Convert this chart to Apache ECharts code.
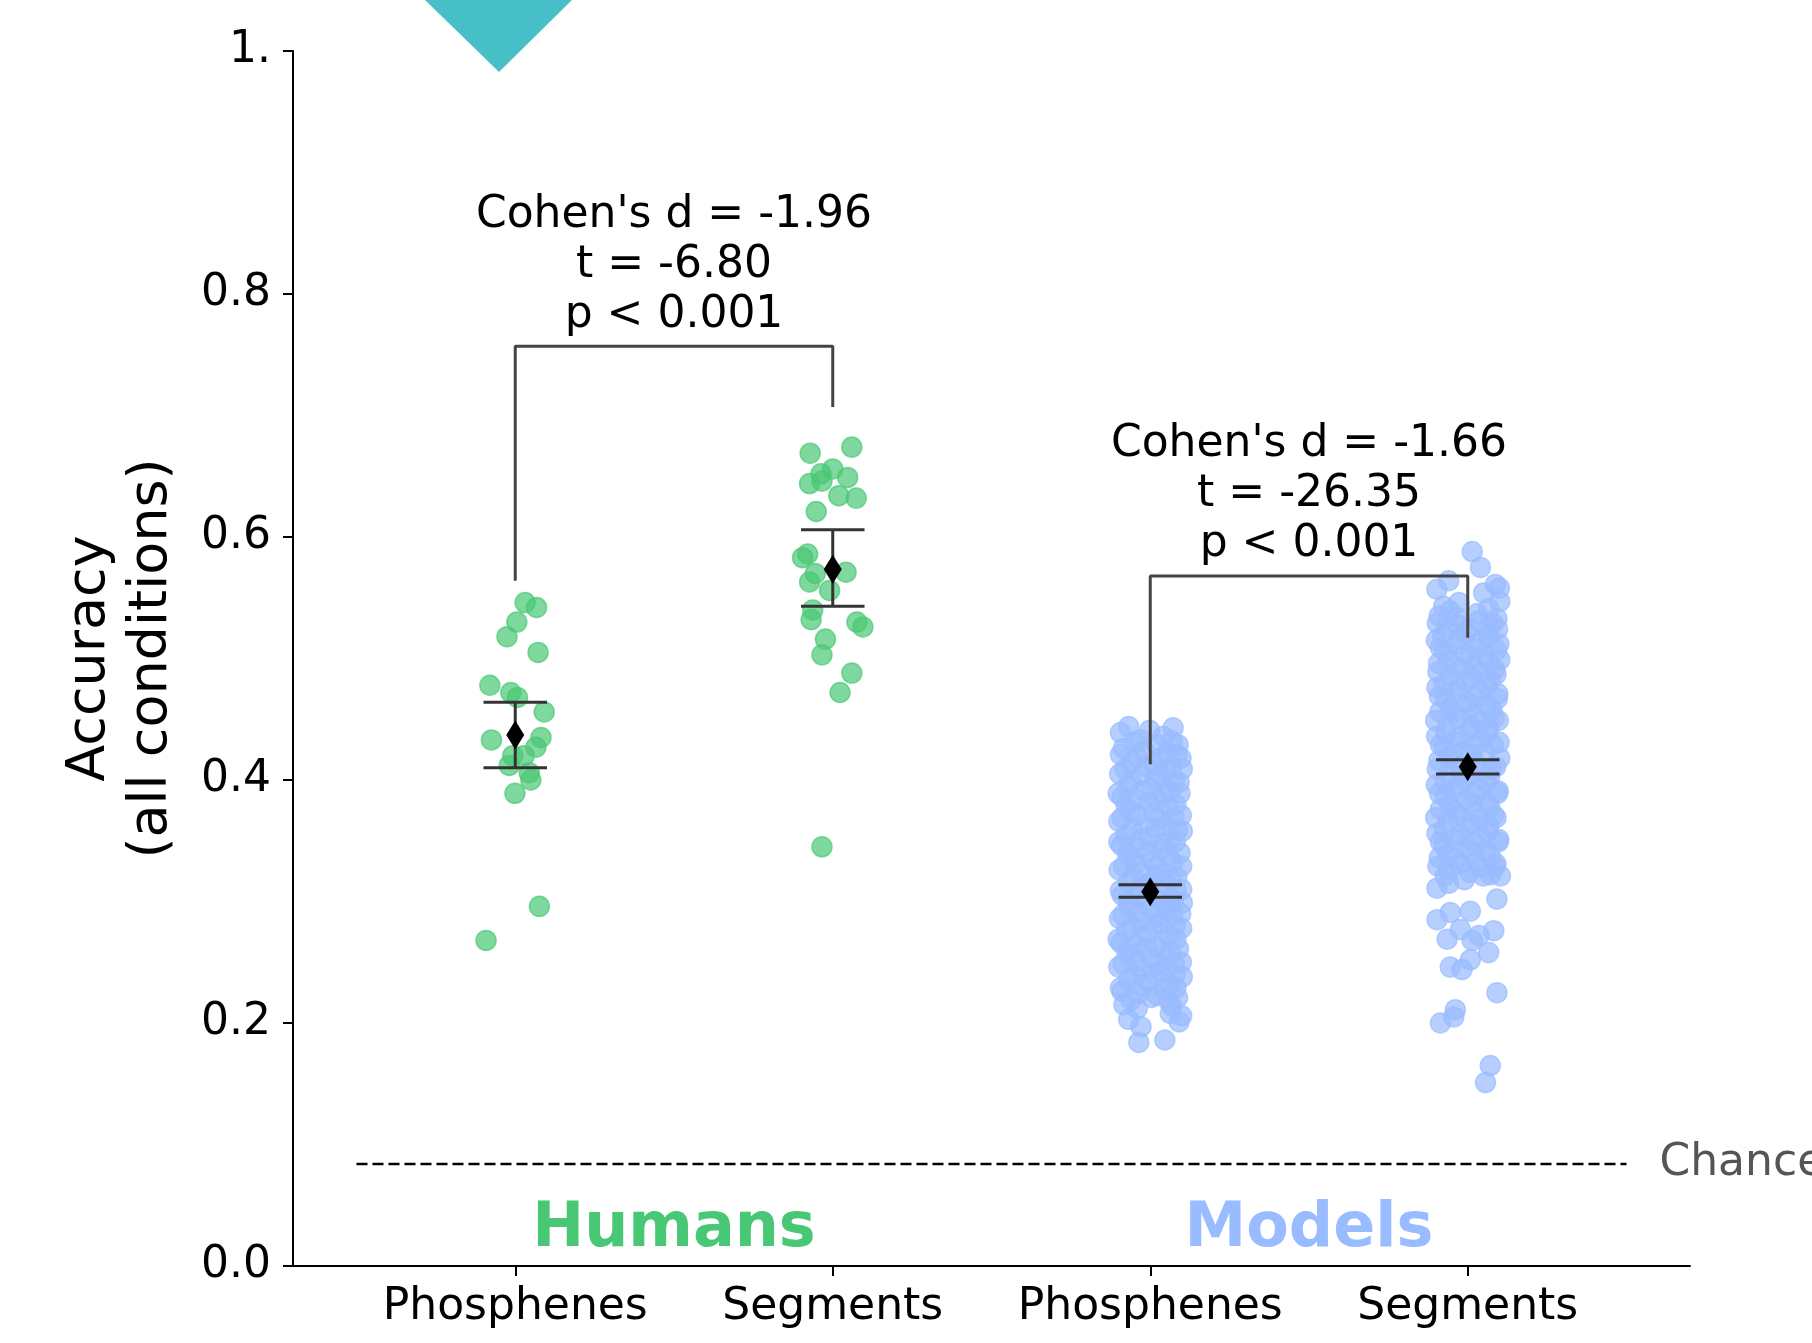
<!DOCTYPE html>
<html>
<head>
<meta charset="utf-8">
<script src="https://cdn.jsdelivr.net/npm/echarts@6/dist/echarts.min.js"></script>
<style>
  html, body { margin: 0; padding: 0; background: #fff; }
  #main { width: 1812px; height: 1343px; }
</style>
</head>
<body>
<div id="main"></div>
<script>
// categories on the x axis (one position per condition)
var categories = ['Phosphenes', 'Segments', 'Phosphenes', 'Segments'];
var xPos = [0, 1, 2, 3];

// mean and error bar (low / high) per condition
var means = [0.437, 0.5735, 0.308, 0.411];
var ciLow = [0.410, 0.543, 0.3034, 0.405];
var ciHigh = [0.464, 0.606, 0.3138, 0.4166];

var chanceLevel = 0.084;

// [jitter, accuracy]
var humansPhosphenes = [
    [0.031, 0.546], [0.067, 0.542], [0.005, 0.530], [-0.026, 0.518], [0.072, 0.505],
    [-0.080, 0.478], [-0.014, 0.472], [0.007, 0.468], [0.091, 0.456], [-0.075, 0.433],
    [0.081, 0.435], [0.065, 0.427], [-0.008, 0.420], [-0.019, 0.412], [0.028, 0.420],
    [0.044, 0.406], [0.049, 0.400], [-0.001, 0.389], [0.076, 0.296], [-0.092, 0.268]
];

var humansSegments = [
    [-0.071, 0.669], [0.060, 0.674], [0.000, 0.656], [-0.037, 0.652], [0.047, 0.649],
    [-0.073, 0.644], [-0.034, 0.646], [0.019, 0.634], [0.074, 0.632], [-0.052, 0.621],
    [-0.079, 0.586], [-0.095, 0.583], [0.042, 0.571], [-0.055, 0.570], [-0.073, 0.563],
    [-0.010, 0.556], [-0.063, 0.540], [-0.068, 0.532], [0.076, 0.530], [0.095, 0.526],
    [-0.023, 0.516], [-0.034, 0.503], [0.060, 0.488], [0.023, 0.472], [-0.034, 0.345]
];

var modelsPhosphenes = [
    [-0.094, 0.439], [-0.068, 0.444], [-0.002, 0.441], [0.072, 0.443], [-0.031, 0.433], [0.041, 0.436], [0.088, 0.429],
    [-0.085, 0.426], [-0.018, 0.424], [0.052, 0.422], [0.097, 0.418],
    [-0.058, 0.415], [0.012, 0.413], [0.068, 0.411],
    [-0.096, 0.405], [-0.029, 0.404], [0.036, 0.402], [0.091, 0.398],
    [-0.071, 0.395], [0.003, 0.393], [0.061, 0.391],
    [-0.089, 0.386], [-0.042, 0.384], [0.024, 0.383], [0.081, 0.380],
    [-0.062, 0.375], [0.011, 0.373], [0.098, 0.371],
    [-0.099, 0.366], [-0.021, 0.364], [0.046, 0.362], [0.086, 0.359],
    [-0.077, 0.355], [-0.004, 0.353], [0.062, 0.351],
    [-0.091, 0.346], [-0.036, 0.344], [0.029, 0.343], [0.094, 0.340],
    [-0.058, 0.336], [0.007, 0.334], [0.071, 0.332],
    [-0.098, 0.326], [-0.027, 0.324], [0.039, 0.323], [0.084, 0.320],
    [-0.069, 0.316], [-0.011, 0.314], [0.053, 0.313], [0.099, 0.310],
    [-0.088, 0.305], [-0.043, 0.304], [0.021, 0.302], [0.074, 0.300],
    [-0.063, 0.296], [0.001, 0.294], [0.049, 0.293], [0.096, 0.290],
    [-0.097, 0.286], [-0.031, 0.284], [0.032, 0.282], [0.079, 0.280],
    [-0.074, 0.276], [-0.009, 0.274], [0.058, 0.272],
    [-0.093, 0.266], [-0.041, 0.264], [0.019, 0.263], [0.089, 0.261],
    [-0.061, 0.256], [0.002, 0.254], [0.051, 0.253], [0.098, 0.250],
    [-0.099, 0.246], [-0.028, 0.244], [0.036, 0.242], [0.078, 0.240],
    [-0.068, 0.236], [-0.006, 0.234], [0.061, 0.232],
    [-0.089, 0.226], [-0.039, 0.224], [0.022, 0.223], [0.086, 0.221],
    [-0.083, 0.215], [-0.041, 0.212], [0.068, 0.214], [0.091, 0.201], [-0.068, 0.203],
    [-0.029, 0.197], [0.063, 0.208], [-0.036, 0.184], [0.046, 0.186], [0.099, 0.206],
    [-0.049, 0.431], [0.021, 0.429], [0.069, 0.432],
    [-0.094, 0.421], [-0.041, 0.419], [0.032, 0.418], [0.084, 0.421],
    [-0.079, 0.409], [-0.012, 0.411], [0.049, 0.408], [0.101, 0.409],
    [-0.061, 0.399], [0.016, 0.401], [0.076, 0.399],
    [-0.101, 0.389], [-0.024, 0.391], [0.041, 0.388], [0.094, 0.389],
    [-0.076, 0.379], [-0.004, 0.381], [0.056, 0.378],
    [-0.089, 0.369], [-0.041, 0.371], [0.031, 0.368], [0.074, 0.369],
    [-0.054, 0.359], [0.016, 0.361], [0.101, 0.358],
    [-0.099, 0.349], [-0.029, 0.351], [0.036, 0.348], [0.079, 0.349],
    [-0.071, 0.339], [-0.009, 0.341], [0.056, 0.338],
    [-0.084, 0.329], [-0.046, 0.331], [0.019, 0.328], [0.099, 0.329],
    [-0.051, 0.319], [0.014, 0.321], [0.066, 0.318],
    [-0.094, 0.309], [-0.031, 0.311], [0.034, 0.308], [0.081, 0.309],
    [-0.069, 0.299], [-0.011, 0.301], [0.061, 0.298], [0.101, 0.299],
    [-0.086, 0.289], [-0.039, 0.291], [0.021, 0.288], [0.071, 0.289],
    [-0.056, 0.279], [0.009, 0.281], [0.099, 0.278],
    [-0.101, 0.269], [-0.026, 0.271], [0.041, 0.268], [0.081, 0.269],
    [-0.074, 0.259], [-0.011, 0.261], [0.064, 0.258],
    [-0.086, 0.249], [-0.039, 0.251], [0.026, 0.248], [0.076, 0.249],
    [-0.049, 0.239], [0.011, 0.241], [0.101, 0.238],
    [-0.094, 0.229], [-0.024, 0.231], [0.044, 0.228], [0.081, 0.229],
    [-0.061, 0.219], [0.004, 0.221], [0.059, 0.218]
];

var modelsSegments = [
    [0.014, 0.588], [0.040, 0.575], [-0.060, 0.564], [-0.097, 0.557], [0.087, 0.561],
    [0.100, 0.558], [-0.076, 0.543], [-0.028, 0.546], [0.050, 0.554], [0.080, 0.529],
    [-0.090, 0.535], [-0.035, 0.534], [0.030, 0.537], [0.092, 0.533],
    [-0.064, 0.526], [0.004, 0.524], [0.062, 0.523],
    [-0.099, 0.515], [-0.027, 0.516], [0.038, 0.514], [0.098, 0.512],
    [-0.072, 0.506], [-0.006, 0.504], [0.057, 0.503],
    [-0.092, 0.496], [-0.041, 0.494], [0.022, 0.493], [0.085, 0.491],
    [-0.058, 0.486], [0.011, 0.484], [0.071, 0.482],
    [-0.097, 0.476], [-0.031, 0.475], [0.036, 0.473], [0.095, 0.471],
    [-0.069, 0.466], [-0.003, 0.464], [0.058, 0.462],
    [-0.088, 0.456], [-0.044, 0.455], [0.019, 0.453], [0.083, 0.451],
    [-0.061, 0.446], [0.008, 0.444], [0.066, 0.442],
    [-0.098, 0.436], [-0.026, 0.435], [0.041, 0.433], [0.099, 0.431],
    [-0.074, 0.426], [-0.010, 0.424], [0.054, 0.422],
    [-0.091, 0.416], [-0.038, 0.415], [0.025, 0.413], [0.088, 0.411],
    [-0.057, 0.406], [0.004, 0.404], [0.069, 0.402],
    [-0.099, 0.396], [-0.029, 0.395], [0.037, 0.393], [0.096, 0.391],
    [-0.071, 0.386], [-0.005, 0.384], [0.059, 0.382],
    [-0.086, 0.376], [-0.042, 0.375], [0.021, 0.373], [0.082, 0.371],
    [-0.063, 0.366], [0.009, 0.364], [0.067, 0.362],
    [-0.097, 0.356], [-0.024, 0.355], [0.043, 0.353], [0.098, 0.351],
    [-0.075, 0.346], [-0.008, 0.344], [0.056, 0.342],
    [-0.090, 0.336], [-0.037, 0.335], [0.027, 0.333], [0.089, 0.331],
    [-0.059, 0.326], [0.006, 0.324], [0.072, 0.322],
    [-0.097, 0.311], [-0.060, 0.315], [0.092, 0.302], [0.103, 0.321], [0.008, 0.292],
    [-0.055, 0.291], [-0.097, 0.285], [-0.023, 0.277], [0.082, 0.276], [0.035, 0.272],
    [-0.065, 0.269], [0.014, 0.268], [0.008, 0.252], [0.066, 0.258], [-0.055, 0.246],
    [-0.018, 0.244], [0.092, 0.225], [-0.039, 0.211], [-0.044, 0.205], [-0.086, 0.200],
    [0.071, 0.165], [0.056, 0.151],
    [-0.056, 0.539], [0.066, 0.541], [0.101, 0.547],
    [-0.096, 0.529], [-0.031, 0.528], [0.034, 0.531], [0.094, 0.524],
    [-0.079, 0.519], [-0.004, 0.521], [0.066, 0.518],
    [-0.086, 0.509], [-0.039, 0.511], [0.029, 0.508], [0.091, 0.507],
    [-0.061, 0.499], [0.009, 0.501], [0.064, 0.498], [0.101, 0.499],
    [-0.094, 0.489], [-0.024, 0.491], [0.041, 0.488], [0.089, 0.487],
    [-0.074, 0.479], [-0.006, 0.481], [0.061, 0.478],
    [-0.089, 0.469], [-0.036, 0.471], [0.026, 0.468], [0.093, 0.467],
    [-0.056, 0.459], [0.011, 0.461], [0.076, 0.458],
    [-0.101, 0.449], [-0.029, 0.451], [0.039, 0.448], [0.096, 0.449],
    [-0.069, 0.439], [0.004, 0.441], [0.061, 0.438],
    [-0.086, 0.429], [-0.041, 0.431], [0.024, 0.428], [0.081, 0.429],
    [-0.059, 0.419], [0.011, 0.421], [0.101, 0.418],
    [-0.096, 0.409], [-0.024, 0.411], [0.041, 0.408], [0.076, 0.409],
    [-0.071, 0.399], [-0.009, 0.401], [0.059, 0.398],
    [-0.089, 0.389], [-0.044, 0.391], [0.024, 0.388], [0.094, 0.389],
    [-0.056, 0.379], [0.011, 0.381], [0.069, 0.378],
    [-0.101, 0.369], [-0.031, 0.371], [0.039, 0.368], [0.089, 0.369],
    [-0.074, 0.359], [-0.004, 0.361], [0.064, 0.358],
    [-0.086, 0.349], [-0.041, 0.351], [0.021, 0.348], [0.096, 0.349],
    [-0.061, 0.339], [0.009, 0.341], [0.071, 0.338],
    [-0.094, 0.329], [-0.026, 0.331], [0.039, 0.328], [0.086, 0.329],
    [-0.071, 0.321], [-0.011, 0.318], [0.049, 0.321]
];

// significance brackets: [x start, x end, left leg bottom, bar height, right leg bottom]
var brackets = [
    [0, 1, 0.564, 0.757, 0.707],
    [2, 3, 0.413, 0.568, 0.517]
];
var bracketTexts = [
    "Cohen's d = -1.96\nt = -6.80\np < 0.001",
    "Cohen's d = -1.66\nt = -26.35\np < 0.001"
];

var groupNames = ['Humans', 'Models'];
var groupColors = ['#48c774', '#99bbff'];
var groupLabelY = 0.03;

var FONT = 'DejaVu Sans';

var chart = echarts.init(document.getElementById('main'));

function pointSeries(pts, xc, color) {
    return {
        type: 'scatter',
        symbol: 'circle',
        symbolSize: 20,
        data: pts.map(function (p) { return [xc + p[0], p[1]]; }),
        itemStyle: { color: color, opacity: 0.7, borderColor: color, borderWidth: 1.5 },
        z: 2,
        silent: true
    };
}

var series = [
    pointSeries(humansPhosphenes, 0, groupColors[0]),
    pointSeries(humansSegments, 1, groupColors[0]),
    pointSeries(modelsPhosphenes, 2, groupColors[1]),
    pointSeries(modelsSegments, 3, groupColors[1]),
    {
        // error bars
        type: 'custom',
        z: 5,
        data: means.map(function (m, i) { return [xPos[i], m, ciLow[i], ciHigh[i]]; }),
        renderItem: function (params, api) {
            var x = api.value(0);
            var pHi = api.coord([x, api.value(3)]);
            var pLo = api.coord([x, api.value(2)]);
            var half = api.size([0.1, 0])[0];
            var st = { stroke: '#333', lineWidth: 3 };
            return {
                type: 'group',
                children: [
                    { type: 'line', shape: { x1: pHi[0], y1: pHi[1], x2: pLo[0], y2: pLo[1] }, style: st },
                    { type: 'line', shape: { x1: pHi[0] - half, y1: pHi[1], x2: pHi[0] + half, y2: pHi[1] }, style: st },
                    { type: 'line', shape: { x1: pLo[0] - half, y1: pLo[1], x2: pLo[0] + half, y2: pLo[1] }, style: st }
                ]
            };
        }
    },
    {
        // means
        type: 'scatter',
        symbol: 'diamond',
        symbolSize: [18, 29],
        z: 6,
        data: means.map(function (m, i) { return [xPos[i], m]; }),
        itemStyle: { color: '#000', opacity: 1 }
    },
    {
        // chance line
        type: 'line',
        symbol: 'none',
        z: 3,
        data: [[-0.5, chanceLevel], [3.5, chanceLevel]],
        lineStyle: { color: '#000', width: 2.5, type: [11, 5] },
        endLabel: {
            show: true,
            formatter: 'Chance',
            distance: 33,
            color: '#555',
            fontSize: 44,
            fontFamily: FONT
        }
    },
    {
        // group names
        type: 'scatter',
        symbolSize: 0,
        z: 4,
        itemStyle: { opacity: 1 },
        data: groupNames.map(function (g, i) {
            return {
                value: [2 * i + 0.5, groupLabelY],
                label: { color: groupColors[i] }
            };
        }),
        label: {
            show: true,
            position: 'inside',
            formatter: function (p) { return groupNames[p.dataIndex]; },
            fontSize: 62,
            fontWeight: 'bold',
            fontFamily: FONT
        }
    },
    {
        // bracket texts
        type: 'scatter',
        symbolSize: 0,
        z: 7,
        itemStyle: { opacity: 1 },
        data: brackets.map(function (b) { return [(b[0] + b[1]) / 2, b[3]]; }),
        label: {
            show: true,
            position: 'top',
            distance: 6,
            formatter: function (p) { return bracketTexts[p.dataIndex]; },
            fontSize: 44,
            lineHeight: 50,
            align: 'center',
            color: '#000',
            fontFamily: FONT
        }
    }
];

brackets.forEach(function (b) {
    series.push({
        type: 'line',
        symbol: 'none',
        z: 7,
        data: [[b[0], b[2]], [b[0], b[3]], [b[1], b[3]], [b[1], b[4]]],
        lineStyle: { color: '#444', width: 3 }
    });
});

var option = {
    animation: false,
    backgroundColor: '#fff',
    textStyle: { fontFamily: FONT },
    grid: { left: 293, right: 122, top: 51, bottom: 77, containLabel: false },
    xAxis: {
        type: 'value',
        min: -0.7,
        max: 3.7,
        splitLine: { show: false },
        axisLine: { show: true, onZero: false, lineStyle: { color: '#000', width: 2 } },
        axisTick: { show: true, customValues: xPos, length: 10, lineStyle: { color: '#000', width: 2 } },
        axisLabel: {
            customValues: xPos,
            formatter: function (v) { return categories[Math.round(v)]; },
            fontSize: 44,
            color: '#000',
            margin: 20,
            fontFamily: FONT
        }
    },
    yAxis: {
        type: 'value',
        min: 0,
        max: 1,
        interval: 0.2,
        name: 'Accuracy\n(all conditions)',
        nameLocation: 'middle',
        nameGap: 110,
        nameTextStyle: { fontSize: 54, lineHeight: 62, color: '#000', fontFamily: FONT },
        splitLine: { show: false },
        axisLine: { show: true, onZero: false, lineStyle: { color: '#000', width: 2 } },
        axisTick: { show: true, length: 10, lineStyle: { color: '#000', width: 2 } },
        axisLabel: {
            formatter: function (v) { return v === 1 ? '1.' : v.toFixed(1); },
            fontSize: 44,
            color: '#000',
            margin: 22,
            fontFamily: FONT
        }
    },
    graphic: [
        {
            // teal marker cut off at the top edge
            type: 'polygon',
            shape: { points: [[425, 0], [572, 0], [499, 72]] },
            style: { fill: '#47bfc7' }
        }
    ],
    series: series
};

chart.setOption(option);
</script>
</body>
</html>
